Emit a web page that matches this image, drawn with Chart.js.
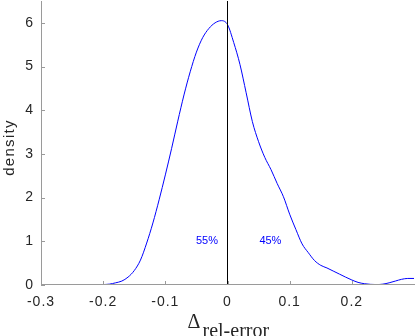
<!DOCTYPE html>
<html><head><meta charset="utf-8">
<script src="https://cdn.jsdelivr.net/npm/chart.js@4/dist/chart.umd.min.js"></script>
<style>html,body{margin:0;padding:0;background:#fff;overflow:hidden}canvas{display:block}</style>
</head><body>
<canvas id="c" width="415" height="336"></canvas>
<script>
// ---- data ----
const densityX = [-0.20,-0.19,-0.18,-0.17,-0.16,-0.15,-0.14,-0.13,-0.12,-0.11,-0.10,-0.09,-0.08,-0.07,-0.06,-0.05,-0.04,-0.03,-0.02,-0.01,
  0.00,0.01,0.02,0.03,0.04,0.05,0.06,0.07,0.08,0.09,0.10,0.11,0.12,0.13,0.14,0.15,0.16,0.17,0.18,0.19,0.20,0.21,0.22,0.23,0.24,0.25,0.26,0.27,0.28,0.29,0.30];
const densityY = [0.01,0.02,0.05,0.09,0.18,0.33,0.57,0.96,1.42,1.95,2.52,3.12,3.75,4.35,4.88,5.33,5.66,5.87,6.00,6.05,
  5.96,5.55,5.05,4.40,3.74,3.28,2.92,2.64,2.32,2.02,1.62,1.27,0.94,0.74,0.56,0.45,0.39,0.32,0.25,0.18,0.115,0.06,0.03,0.015,0.01,0.02,0.05,0.09,0.13,0.15,0.15];
const xTickValues = [-0.3,-0.2,-0.1,0,0.1,0.2];
const yTickValues = [0,1,2,3,4,5,6];
const refLineX = 0;
const shareLabels = ['55%','45%'];
const shareX = [-0.033, 0.069];
const shareY = [1, 1];
const xRange = [-0.3, 0.3];
const yRange = [0, 6.5];

const AXIS_COLOR = '#9a9a9a';
const TEXT_COLOR = '#262626';

const decorations = {
  id: 'decorations',
  beforeDraw(chart) { chart.ctx.letterSpacing = '1px'; },
  afterDraw(chart) {
    const ctx = chart.ctx, a = chart.chartArea;
    const xs = chart.scales.x, ys = chart.scales.y;
    ctx.save();
    ctx.letterSpacing = '0px';
    ctx.strokeStyle = AXIS_COLOR; ctx.lineWidth = 1;
    ctx.beginPath();
    ctx.moveTo(a.left + 0.5, a.top); ctx.lineTo(a.left + 0.5, a.bottom);
    ctx.moveTo(a.left, a.bottom - 0.5); ctx.lineTo(a.right + 1, a.bottom - 0.5);
    xTickValues.forEach(v => {
      const px = Math.round(xs.getPixelForValue(v)) + 0.5;
      ctx.moveTo(px, a.bottom); ctx.lineTo(px, a.bottom - 4);
    });
    yTickValues.forEach(v => {
      const py = Math.round(ys.getPixelForValue(v)) + 0.5;
      ctx.moveTo(a.left, py); ctx.lineTo(a.left + 4, py);
    });
    ctx.stroke();
    // annotations
    ctx.fillStyle = '#0000ff';
    ctx.font = '11px "Liberation Sans", Arial, sans-serif';
    ctx.textAlign = 'center'; ctx.textBaseline = 'middle';
    shareLabels.forEach((t, i) => ctx.fillText(t, xs.getPixelForValue(shareX[i]), ys.getPixelForValue(shareY[i])));
    // y title
    ctx.fillStyle = TEXT_COLOR;
    ctx.save();
    ctx.translate(13.5, 147.5);
    ctx.rotate(-Math.PI / 2);
    ctx.letterSpacing = '1.3px';
    ctx.font = '15px "Liberation Sans", Arial, sans-serif';
    ctx.textAlign = 'center'; ctx.textBaseline = 'alphabetic';
    ctx.fillText('density', 0, 0);
    ctx.restore();
    // x title: Delta with subscript
    ctx.font = '20px "Liberation Serif", "Times New Roman", serif';
    ctx.textAlign = 'left'; ctx.textBaseline = 'alphabetic';
    ctx.fillText('\u0394', 187.5, 327.5);
    ctx.fillText('rel-error', 202.5, 336.5);
    ctx.restore();
  }
};

new Chart(document.getElementById('c'), {
  type: 'line',
  data: {
    datasets: [
      {
        data: [{x: refLineX, y: yRange[0]}, {x: refLineX, y: yRange[1]}],
        borderColor: '#000000', borderWidth: 1, pointRadius: 0, tension: 0
      },
      {
        data: densityX.map((x, i) => ({x, y: densityY[i]})),
        borderColor: '#0000ff', borderWidth: 1, pointRadius: 0,
        cubicInterpolationMode: 'monotone', fill: false
      }
    ]
  },
  options: {
    responsive: false, animation: false, devicePixelRatio: 1,
    layout: {padding: {top: 1, right: 1, left: 0, bottom: 0}},
    plugins: {legend: {display: false}, tooltip: {enabled: false}},
    scales: {
      x: {
        type: 'linear', min: xRange[0], max: xRange[1],
        grid: {display: false, drawTicks: false}, border: {display: false},
        afterBuildTicks: s => { s.ticks = xTickValues.map(v => ({value: v})); },
        afterFit: s => { s.height = 51; s.paddingLeft = 0; s.paddingRight = 0; },
        ticks: {
          color: TEXT_COLOR, padding: 9, maxRotation: 0, autoSkip: false,
          font: {family: '"Liberation Sans", Arial, sans-serif', size: 14},
          callback: v => String(Number(v.toFixed(1)))
        }
      },
      y: {
        type: 'linear', min: yRange[0], max: yRange[1],
        grid: {display: false, drawTicks: false}, border: {display: false},
        afterBuildTicks: s => { s.ticks = yTickValues.map(v => ({value: v})); },
        afterFit: s => { s.width = 41; s.paddingTop = 0; s.paddingBottom = 0; },
        ticks: {
          color: TEXT_COLOR, padding: 7, autoSkip: false,
          font: {family: '"Liberation Sans", Arial, sans-serif', size: 14},
          callback: v => String(v)
        }
      }
    }
  },
  plugins: [decorations]
});
</script>
</body></html>
